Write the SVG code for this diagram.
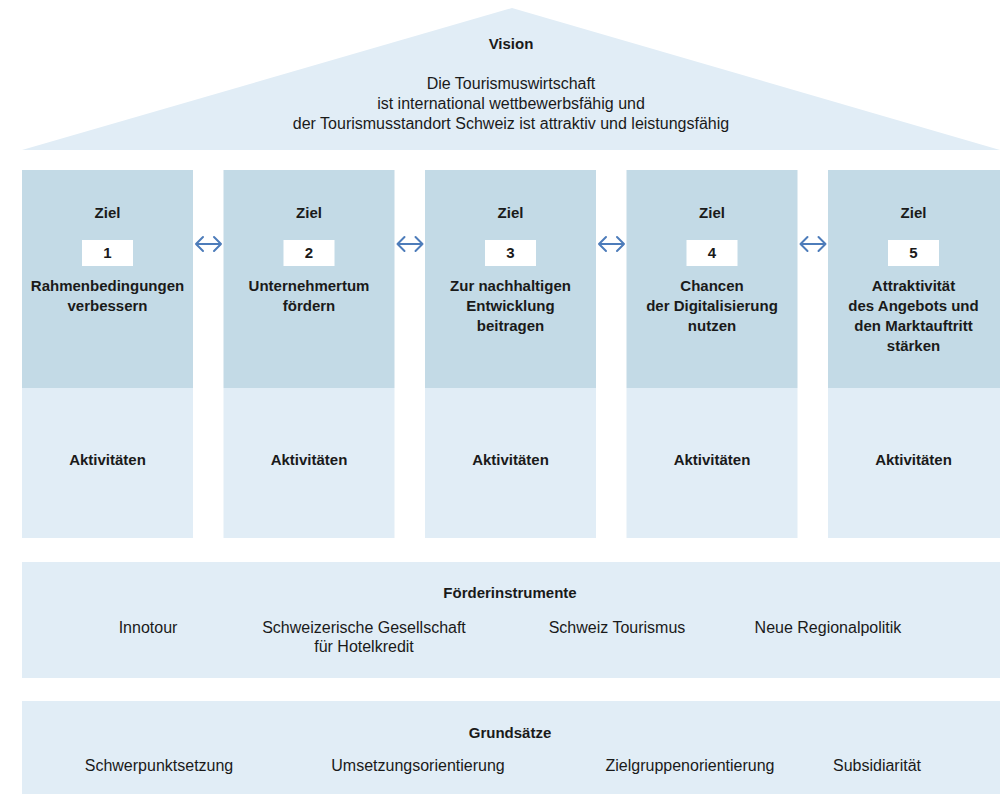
<svg xmlns="http://www.w3.org/2000/svg" width="1002" height="794" viewBox="0 0 1002 794">
<style>
.light{fill:#e1edf6}
.dark{fill:#c3dae6}
.t{font-family:"Liberation Sans",Arial,sans-serif;fill:#1a1a1a;text-anchor:middle}
.b{font-weight:bold;font-size:15px}
.r{font-size:16px}
.num{fill:#ffffff}
.arr{fill:none;stroke:#4d7cba;stroke-width:2;stroke-linecap:round;stroke-linejoin:round}
</style>
<rect width="1002" height="794" fill="#ffffff"/>
<g id="vision">
<polygon class="light" points="512,8 1000,150 22,150"/>
<text class="t b" x="511" y="49">Vision</text>
<text class="t r" x="511" y="89">Die Tourismuswirtschaft</text>
<text class="t r" x="511" y="109">ist international wettbewerbsfähig und</text>
<text class="t r" x="511" y="129">der Tourismusstandort Schweiz ist attraktiv und leistungsfähig</text>
</g>
<g id="ziel1">
<rect class="dark" x="22" y="170" width="171" height="218"/>
<rect class="light" x="22" y="388" width="171" height="150"/>
<text class="t b" x="107.5" y="218">Ziel</text>
<rect class="num" x="82" y="240" width="51" height="26"/>
<text class="t b" x="107.5" y="258">1</text>
<text class="t b" x="107.5" y="291">Rahmenbedingungen</text>
<text class="t b" x="107.5" y="311">verbessern</text>
<text class="t b" x="107.5" y="465">Aktivitäten</text>
</g>
<g id="ziel2">
<rect class="dark" x="223.5" y="170" width="171" height="218"/>
<rect class="light" x="223.5" y="388" width="171" height="150"/>
<text class="t b" x="309" y="218">Ziel</text>
<rect class="num" x="283.5" y="240" width="51" height="26"/>
<text class="t b" x="309" y="258">2</text>
<text class="t b" x="309" y="291">Unternehmertum</text>
<text class="t b" x="309" y="311">fördern</text>
<text class="t b" x="309" y="465">Aktivitäten</text>
</g>
<g id="ziel3">
<rect class="dark" x="425" y="170" width="171" height="218"/>
<rect class="light" x="425" y="388" width="171" height="150"/>
<text class="t b" x="510.5" y="218">Ziel</text>
<rect class="num" x="485" y="240" width="51" height="26"/>
<text class="t b" x="510.5" y="258">3</text>
<text class="t b" x="510.5" y="291">Zur nachhaltigen</text>
<text class="t b" x="510.5" y="311">Entwicklung</text>
<text class="t b" x="510.5" y="331">beitragen</text>
<text class="t b" x="510.5" y="465">Aktivitäten</text>
</g>
<g id="ziel4">
<rect class="dark" x="626.5" y="170" width="171" height="218"/>
<rect class="light" x="626.5" y="388" width="171" height="150"/>
<text class="t b" x="712" y="218">Ziel</text>
<rect class="num" x="686.5" y="240" width="51" height="26"/>
<text class="t b" x="712" y="258">4</text>
<text class="t b" x="712" y="291">Chancen</text>
<text class="t b" x="712" y="311">der Digitalisierung</text>
<text class="t b" x="712" y="331">nutzen</text>
<text class="t b" x="712" y="465">Aktivitäten</text>
</g>
<g id="ziel5">
<rect class="dark" x="828" y="170" width="172" height="218"/>
<rect class="light" x="828" y="388" width="172" height="150"/>
<text class="t b" x="913.5" y="218">Ziel</text>
<rect class="num" x="888" y="240" width="51" height="26"/>
<text class="t b" x="913.5" y="258">5</text>
<text class="t b" x="913.5" y="291">Attraktivität</text>
<text class="t b" x="913.5" y="311">des Angebots und</text>
<text class="t b" x="913.5" y="331">den Marktauftritt</text>
<text class="t b" x="913.5" y="351">stärken</text>
<text class="t b" x="913.5" y="465">Aktivitäten</text>
</g>
<g id="connectors">
<path class="arr" d="M196,244 H221 M203,237 L196,244 L203,251 M214,237 L221,244 L214,251"/>
<path class="arr" d="M397.5,244 H422.5 M404.5,237 L397.5,244 L404.5,251 M415.5,237 L422.5,244 L415.5,251"/>
<path class="arr" d="M599,244 H624 M606,237 L599,244 L606,251 M617,237 L624,244 L617,251"/>
<path class="arr" d="M800.5,244 H825.5 M807.5,237 L800.5,244 L807.5,251 M818.5,237 L825.5,244 L818.5,251"/>
</g>
<g id="foerderinstrumente">
<rect class="light" x="22" y="562" width="978" height="116"/>
<text class="t b" x="510" y="598">Förderinstrumente</text>
<text class="t r" x="148" y="633">Innotour</text>
<text class="t r" x="364" y="633">Schweizerische Gesellschaft</text>
<text class="t r" x="364" y="652">für Hotelkredit</text>
<text class="t r" x="617" y="633">Schweiz Tourismus</text>
<text class="t r" x="828" y="633">Neue Regionalpolitik</text>
</g>
<g id="grundsaetze">
<rect class="light" x="22" y="701" width="978" height="93"/>
<text class="t b" x="510" y="738">Grundsätze</text>
<text class="t r" x="159" y="771">Schwerpunktsetzung</text>
<text class="t r" x="418" y="771">Umsetzungsorientierung</text>
<text class="t r" x="690" y="771">Zielgruppenorientierung</text>
<text class="t r" x="877" y="771">Subsidiarität</text>
</g>
</svg>
